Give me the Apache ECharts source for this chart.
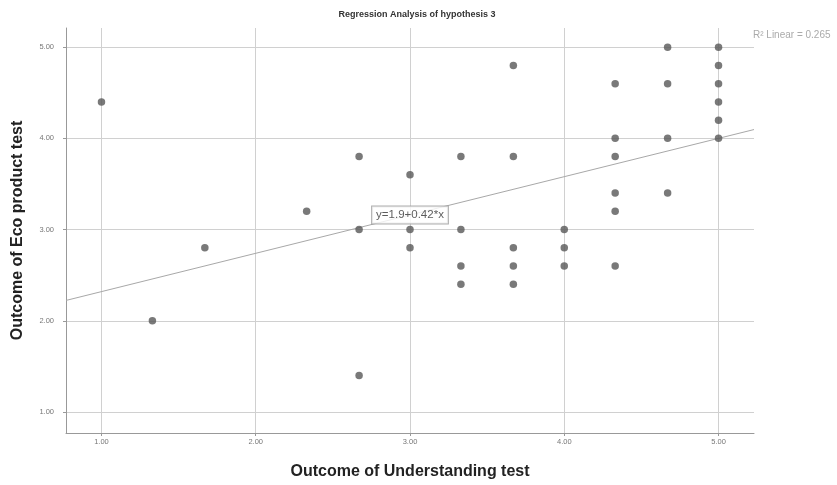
<!DOCTYPE html>
<html>
<head>
<meta charset="utf-8">
<script src="https://cdn.jsdelivr.net/npm/echarts@6/dist/echarts.min.js"></script>
<style>
  html, body { margin: 0; padding: 0; background: #fff; }
  #chart { width: 837px; height: 485px; }
</style>
</head>
<body>
<div id="chart"></div>
<script>
// Understanding score (x) and eco-product score (y) for each respondent
const understanding = [
  1.00, 1.33, 1.67, 2.33,
  2.67, 2.67, 2.67,
  3.00, 3.00, 3.00,
  3.33, 3.33, 3.33, 3.33,
  3.67, 3.67, 3.67, 3.67, 3.67,
  4.00, 4.00, 4.00,
  4.33, 4.33, 4.33, 4.33, 4.33, 4.33,
  4.67, 4.67, 4.67, 4.67,
  5.00, 5.00, 5.00, 5.00, 5.00, 5.00
];
const ecoProduct = [
  4.4, 2.0, 2.8, 3.2,
  3.8, 3.0, 1.4,
  3.6, 3.0, 2.8,
  3.8, 3.0, 2.6, 2.4,
  4.8, 3.8, 2.8, 2.6, 2.4,
  3.0, 2.8, 2.6,
  4.6, 4.0, 3.8, 3.4, 3.2, 2.6,
  5.0, 4.6, 4.0, 3.4,
  5.0, 4.8, 4.6, 4.4, 4.2, 4.0
];
const tickValues = [1, 2, 3, 4, 5];
const fitIntercept = 1.9;
const fitSlope = 0.42;
const rSquared = '0.265';
const xMin = 0.77, xMax = 5.23;
const yMin = 0.77, yMax = 5.21;

const points = understanding.map((x, i) => [x, ecoProduct[i]]);
const fit = x => fitIntercept + fitSlope * x;
const fitLine = [[xMin, fit(xMin)], [xMax, fit(xMax)]];
const labelAt = [3.0, fit(3.0)];

const tickFmt = v => v.toFixed(2);
const gridColor = '#d0d0d0';

function valueAxis(name, min, max, gap, nameRotate, labelMargin) {
  return {
    type: 'value',
    min: min,
    max: max,
    name: name,
    nameLocation: 'middle',
    nameGap: gap,
    nameRotate: nameRotate,
    nameTextStyle: { fontFamily: 'Liberation Sans', fontSize: 16, fontWeight: 'bold', color: '#222' },
    axisLine: { show: true, lineStyle: { color: '#999', width: 1 } },
    axisTick: { show: true, length: 3, customValues: tickValues, lineStyle: { color: '#999' } },
    axisLabel: {
      customValues: tickValues, formatter: tickFmt, margin: labelMargin,
      fontFamily: 'Liberation Sans', fontSize: 7.5, color: '#777'
    },
    splitLine: { show: true, lineStyle: { color: gridColor, width: 1 } }
  };
}

const chart = echarts.init(document.getElementById('chart'), null, { renderer: 'canvas' });
chart.setOption({
  animation: false,
  backgroundColor: '#fff',
  title: {
    text: 'Regression Analysis of hypothesis 3',
    left: 412, top: 5, textAlign: 'center',
    textStyle: { fontFamily: 'Liberation Sans', fontSize: 9, fontWeight: 'bold', color: '#333' }
  },
  graphic: [{
    type: 'text', left: 753, top: 30,
    style: { text: 'R\u00b2 Linear = ' + rSquared, fontFamily: 'Liberation Sans', fontSize: 10, fill: '#aaa' }
  }],
  grid: { left: 66, right: 83, top: 28, bottom: 52, containLabel: false },
  xAxis: valueAxis('Outcome of Understanding test', xMin, xMax, 31, 0, 5),
  yAxis: valueAxis('Outcome of Eco product test', yMin, yMax, 40, 90, 12),
  series: [
    {
      type: 'line',
      data: fitLine,
      symbol: 'none',
      lineStyle: { color: '#a8a8a8', width: 1 },
      z: 2
    },
    {
      type: 'scatter',
      data: points,
      symbol: 'circle',
      symbolSize: 7.5,
      itemStyle: { color: '#575757' },
      z: 3
    },
    {
      type: 'scatter',
      data: [labelAt],
      symbolSize: 0,
      z: 4,
      label: {
        show: true, position: 'inside',
        formatter: 'y=' + fitIntercept + '+' + fitSlope + '*x',
        fontFamily: 'Liberation Sans', fontSize: 11.5, color: '#333',
        backgroundColor: '#fff', borderColor: '#999', borderWidth: 1,
        padding: [3, 4, 2, 4]
      }
    }
  ]
});
</script>
</body>
</html>
